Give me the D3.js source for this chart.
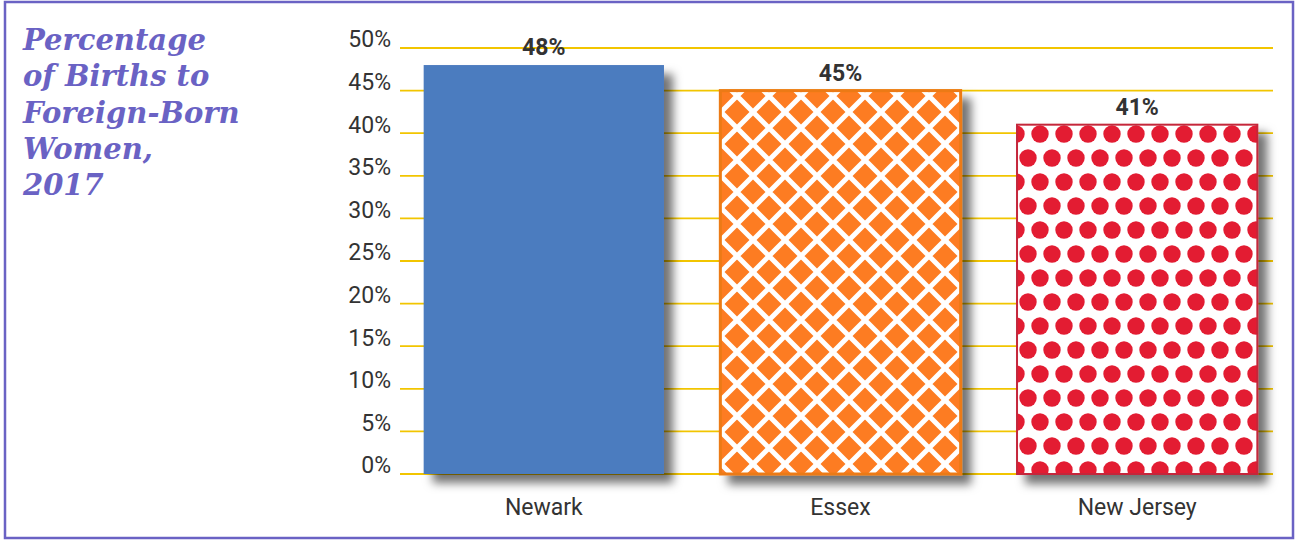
<!DOCTYPE html>
<html>
<head>
<meta charset="utf-8">
<script src="https://cdn.jsdelivr.net/npm/d3@7"></script>
<style>
  body { margin: 0; background: #fff; }
  svg { display: block; }
</style>
</head>
<body>
<script>
// data
var places = ['Newark', 'Essex', 'New Jersey'];
var shares = [48, 45, 41];
var yTicks = [0, 5, 10, 15, 20, 25, 30, 35, 40, 45, 50];
var titleLines = ['Percentage', 'of Births to', 'Foreign-Born', 'Women,', '2017'];

var W = 1295, H = 540;
var svg = d3.select('body').append('svg').attr('width', W).attr('height', H);
var defs = svg.append('defs');

// drop shadow for bars
var f = defs.append('filter').attr('id', 'shadow').attr('x', '-10%').attr('y', '-10%').attr('width', '130%').attr('height', '130%');
f.append('feDropShadow').attr('dx', 9).attr('dy', 9).attr('stdDeviation', 5).attr('flood-color', '#000').attr('flood-opacity', 0.55);

// Essex lattice pattern
var lat = defs.append('pattern').attr('id', 'lattice').attr('patternUnits', 'userSpaceOnUse')
  .attr('width', 32).attr('height', 32).attr('x', 721).attr('y', 80);
lat.append('rect').attr('width', 32).attr('height', 32).attr('fill', '#fd7c22');
lat.append('path').attr('d', 'M-4,-4L36,36M36,-4L-4,36').attr('stroke', '#fff').attr('stroke-width', 5);

// New Jersey dots pattern
var dots = defs.append('pattern').attr('id', 'dots').attr('patternUnits', 'userSpaceOnUse')
  .attr('width', 24).attr('height', 48).attr('x', 1028).attr('y', 134);
dots.append('rect').attr('width', 24).attr('height', 48).attr('fill', '#fff');
[[12, 0], [0, 24], [24, 24], [12, 48]].forEach(function(p){
  dots.append('circle').attr('cx', p[0]).attr('cy', p[1]).attr('r', 8.7).attr('fill', '#e31b32');
});

var fills = ['#4c7cbf', 'url(#lattice)', 'url(#dots)'];
var strokes = ['none', '#ec7a12', '#c5283a'];
var strokeW = [0, 3, 2];

// frame
svg.append('rect').attr('x', 5).attr('y', 2).attr('width', 1288).attr('height', 536)
  .attr('fill', 'none').attr('stroke', '#6a62c4').attr('stroke-width', 2.5);

// title
var title = svg.append('text').attr('x', 23).attr('y', 50)
  .attr('font-family', '"DejaVu Serif", Georgia, serif').attr('font-style', 'italic').attr('font-weight', 'bold')
  .attr('font-size', 29).attr('fill', '#6a62c4');
title.selectAll('tspan').data(titleLines).enter().append('tspan')
  .attr('x', 23).attr('y', (d, i) => 50 + i * 36.3).text(d => d);

// scales
var y = d3.scaleLinear().domain([0, 50]).range([474, 48]);
var x = d3.scaleBand().domain(places).range([394, 1287]).paddingInner(0.19).paddingOuter(0.1);

// grid
svg.append('g').selectAll('line').data(yTicks).enter().append('line')
  .attr('x1', 400).attr('x2', 1273)
  .attr('y1', d => y(d)).attr('y2', d => y(d))
  .attr('stroke', '#f2c500').attr('stroke-width', 1.8);

// y labels
var yAxis = d3.axisLeft(y).tickValues(yTicks).tickFormat(d => d + '%').tickSize(0).tickPadding(0);
var gy = svg.append('g').attr('transform', 'translate(391,0)').call(yAxis);
gy.select('.domain').remove();
gy.selectAll('text').attr('font-family', 'Roboto, sans-serif').attr('font-size', 23).attr('fill', '#333').attr('dy', '-0.05em');

// bars
svg.append('g').selectAll('rect').data(shares).enter().append('rect')
  .attr('x', (d, i) => x(places[i]))
  .attr('y', d => y(d))
  .attr('width', x.bandwidth())
  .attr('height', d => y(0) - y(d))
  .attr('fill', (d, i) => fills[i])
  .attr('stroke', (d, i) => strokes[i])
  .attr('stroke-width', (d, i) => strokeW[i])
  .attr('filter', 'url(#shadow)');

// value labels
svg.append('g').selectAll('text').data(shares).enter().append('text')
  .attr('x', (d, i) => x(places[i]) + x.bandwidth() / 2)
  .attr('y', d => y(d) - 10)
  .attr('text-anchor', 'middle')
  .attr('font-family', 'Roboto, sans-serif').attr('font-weight', 'bold').attr('font-size', 23)
  .attr('fill', '#333').text(d => d + '%');

// category labels
var xAxis = d3.axisBottom(x).tickSize(0).tickPadding(0);
var gx = svg.append('g').attr('transform', 'translate(0,515)').call(xAxis);
gx.select('.domain').remove();
gx.selectAll('text').attr('font-family', 'Roboto, sans-serif').attr('font-size', 23).attr('fill', '#333').attr('dy', 0);
</script>
</body>
</html>
